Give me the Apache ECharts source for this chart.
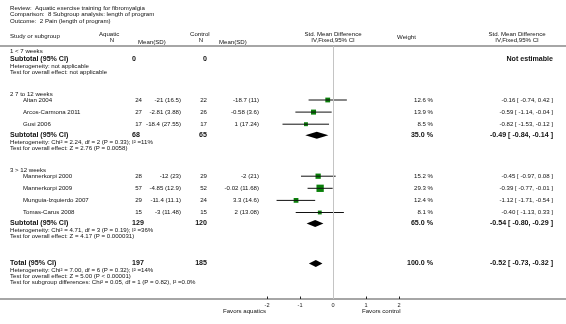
<!DOCTYPE html>
<html>
<head>
<meta charset="utf-8">
<script src="https://cdn.jsdelivr.net/npm/echarts@6/dist/echarts.min.js"></script>
<style>
html, body { margin: 0; padding: 0; background: #fff; }
#chart { width: 566px; height: 324px; }
</style>
</head>
<body>
<div id="chart"></div>
<script>
// ---- data ----
const titleLines = [
  'Review:  Aquatic exercise training for fibromyalgia',
  'Comparison:  8 Subgroup analysis: length of program',
  'Outcome:  2 Pain (length of program)'
]
const groupNames = ['1 < 7 weeks', '2 7 to 12 weeks', '3 > 12 weeks']
const studyGroup = [1, 1, 1, 2, 2, 2, 2]
const studyNames = ['Altan 2004', 'Arcos-Carmona 2011', 'Gusi 2006', 'Mannerkorpi 2000', 'Mannerkorpi 2009', 'Munguia-Izquierdo 2007', 'Tomas-Carus 2008']
const aquaticN = [24, 27, 17, 28, 57, 29, 15]
const aquaticMeanSD = ['-21 (16.5)', '-2.81 (3.88)', '-18.4 (27.55)', '-12 (23)', '-4.85 (12.9)', '-11.4 (11.1)', '-3 (11.48)']
const controlN = [22, 26, 17, 29, 52, 24, 15]
const controlMeanSD = ['-18.7 (11)', '-0.58 (3.6)', '1 (17.24)', '-2 (21)', '-0.02 (11.68)', '3.3 (14.6)', '2 (13.08)']
const weights = [12.6, 13.9, 8.5, 15.2, 29.3, 12.4, 8.1]
const smd = [-0.16, -0.59, -0.82, -0.45, -0.39, -1.12, -0.40]
const ciLow = [-0.74, -1.14, -1.53, -0.97, -0.77, -1.71, -1.13]
const ciHigh = [0.42, -0.04, -0.12, 0.08, -0.01, -0.54, 0.33]

const subAquaticN = [0, 68, 129]
const subControlN = [0, 65, 120]
const subWeight = [null, 35.0, 65.0]
const subSmd = [null, -0.49, -0.54]
const subLow = [null, -0.84, -0.80]
const subHigh = [null, -0.14, -0.29]
const subHetero = [
  'Heterogeneity: not applicable',
  'Heterogeneity: Chi² = 2.24, df = 2 (P = 0.33); I² =11%',
  'Heterogeneity: Chi² = 4.71, df = 3 (P = 0.19); I² =36%'
]
const subTest = [
  'Test for overall effect: not applicable',
  'Test for overall effect: Z = 2.76 (P = 0.0058)',
  'Test for overall effect: Z = 4.17 (P = 0.000031)'
]
const total = { aquaticN: 197, controlN: 185, weight: 100.0, smd: -0.52, low: -0.73, high: -0.32 }
const totalNotes = [
  'Heterogeneity: Chi² = 7.00, df = 6 (P = 0.32); I² =14%',
  'Test for overall effect: Z = 5.00 (P < 0.00001)',
  'Test for subgroup differences: Chi² = 0.05, df = 1 (P = 0.82), I² =0.0%'
]
const axisTicks = [-2, -1, 0, 1, 2]
const favorsLeft = 'Favors aquatics'
const favorsRight = 'Favors control'

// ---- layout ----
const FONT = '"Liberation Sans", Arial, Helvetica, sans-serif'
const fNormal = '6.1px ' + FONT
const fBold = 'bold 7.1px ' + FONT
const col = { name: 10, study: 23, aqN: 142, aqNBold: 132, aqMean: 181, ctN: 207, ctMean: 259, weight: 433, ci: 553 }
const topLine = 46, bottomLine = 299

const fmt2 = v => v.toFixed(2)
const ciText = (e, l, h) => fmt2(e) + ' [ ' + fmt2(l) + ', ' + fmt2(h) + ' ]'

let texts = []
function txt(str, x, y, font, align) {
  texts.push({
    type: 'text', x: x, y: y, silent: true,
    style: { text: str, font: font, fill: '#111', align: align || 'left', verticalAlign: 'middle',
             textAlign: align || 'left', textVerticalAlign: 'middle' }
  })
}

titleLines.forEach((t, i) => txt(t, 10, 8 + i * 6.5, fNormal))
txt('Study or subgroup', 10, 36, fNormal)
txt('Aquatic', 99, 34, fNormal)
txt('N', 112, 40, fNormal, 'center')
txt('Mean(SD)', 138, 42, fNormal)
txt('Control', 190, 34, fNormal)
txt('N', 201, 40, fNormal, 'center')
txt('Mean(SD)', 219, 42, fNormal)
txt('Std. Mean Difference', 333, 34, fNormal, 'center')
txt('IV,Fixed,95% CI', 333, 40, fNormal, 'center')
txt('Weight', 397, 37, fNormal)
txt('Std. Mean Difference', 517, 34, fNormal, 'center')
txt('IV,Fixed,95% CI', 517, 40, fNormal, 'center')

const studyPts = []
const diamondPts = []
let y = 51
groupNames.forEach((g, gi) => {
  txt(g, col.name, y, fNormal)
  const idx = studyGroup.map((s, i) => s === gi ? i : -1).filter(i => i >= 0)
  if (idx.length) {
    y += 6
    idx.forEach((i, k) => {
      txt(studyNames[i], col.study, y, fNormal)
      txt(String(aquaticN[i]), col.aqN, y, fNormal, 'right')
      txt(aquaticMeanSD[i], col.aqMean, y, fNormal, 'right')
      txt(String(controlN[i]), col.ctN, y, fNormal, 'right')
      txt(controlMeanSD[i], col.ctMean, y, fNormal, 'right')
      txt(weights[i].toFixed(1) + ' %', col.weight, y, fNormal, 'right')
      txt(ciText(smd[i], ciLow[i], ciHigh[i]), col.ci, y, fNormal, 'right')
      studyPts.push([smd[i], ciLow[i], ciHigh[i], y, weights[i]])
      if (k < idx.length - 1) y += 12.1
    })
    y += 11
  } else {
    y += 8
  }
  txt('Subtotal (95% CI)', col.name, y, fBold)
  txt(String(subAquaticN[gi]), col.aqNBold, y, fBold)
  txt(String(subControlN[gi]), col.ctN, y, fBold, 'right')
  if (subSmd[gi] === null) {
    txt('Not estimable', col.ci, y, fBold, 'right')
  } else {
    txt(subWeight[gi].toFixed(1) + ' %', col.weight, y, fBold, 'right')
    txt(ciText(subSmd[gi], subLow[gi], subHigh[gi]), col.ci, y, fBold, 'right')
    diamondPts.push([subSmd[gi], subLow[gi], subHigh[gi], y])
  }
  y += 7
  txt(subHetero[gi], col.name, y, fNormal)
  y += 6
  txt(subTest[gi], col.name, y, fNormal)
  y += 22
})
y += 5
txt('Total (95% CI)', col.name, y, fBold)
txt(String(total.aquaticN), col.aqNBold, y, fBold)
txt(String(total.controlN), col.ctN, y, fBold, 'right')
txt(total.weight.toFixed(1) + ' %', col.weight, y, fBold, 'right')
txt(ciText(total.smd, total.low, total.high), col.ci, y, fBold, 'right')
diamondPts.push([total.smd, total.low, total.high, y])
y += 7
totalNotes.forEach(n => { txt(n, col.name, y, fNormal); y += 6 })

txt(favorsLeft, 266, 311.5, fNormal, 'right')
txt(favorsRight, 362, 311.5, fNormal)

const rules = [topLine, bottomLine].map(ly => ({
  type: 'line', silent: true, z: -1,
  shape: { x1: 0, y1: ly, x2: 566, y2: ly },
  style: { stroke: '#a6a6a6', lineWidth: 2 }
}))

const chart = echarts.init(document.getElementById('chart'), null, { renderer: 'canvas' })
chart.setOption({
  animation: false,
  grid: { left: 267, right: 167, top: topLine, bottom: 324 - bottomLine },
  xAxis: {
    type: 'value', min: -2, max: 2, interval: 1,
    axisLine: { show: false },
    axisTick: { show: true, inside: true, length: 2.5, lineStyle: { color: '#222', width: 1 } },
    axisLabel: { fontSize: 5.6, fontFamily: FONT, color: '#222', margin: 3,
                 formatter: v => axisTicks.indexOf(v) >= 0 ? String(v) : '' },
    splitLine: { show: false }
  },
  yAxis: { type: 'value', min: topLine, max: bottomLine, inverse: true, show: false },
  graphic: { elements: rules.concat(texts) },
  series: [
    {
      type: 'custom',
      data: studyPts,
      encode: { x: [0, 1, 2], y: 3 },
      z: 3,
      renderItem: (params, api) => {
        const c = api.coord([api.value(0), api.value(3)])
        const l = api.coord([api.value(1), api.value(3)])
        const h = api.coord([api.value(2), api.value(3)])
        const s = 1.35 * Math.sqrt(api.value(4))
        return {
          type: 'group',
          children: [
            { type: 'rect', shape: { x: c[0] - s / 2, y: c[1] - s / 2, width: s, height: s }, style: { fill: '#0a800a' } },
            { type: 'line', shape: { x1: l[0], y1: l[1], x2: h[0], y2: h[1] }, style: { stroke: '#111', lineWidth: 1 } }
          ]
        }
      },
      markLine: {
        silent: true, symbol: 'none', label: { show: false },
        lineStyle: { color: '#c4c4c4', width: 1, type: 'solid' },
        data: [{ xAxis: 0 }]
      }
    },
    {
      type: 'custom',
      data: diamondPts,
      encode: { x: [0, 1, 2], y: 3 },
      z: 3,
      renderItem: (params, api) => {
        const c = api.coord([api.value(0), api.value(3)])
        const l = api.coord([api.value(1), api.value(3)])
        const h = api.coord([api.value(2), api.value(3)])
        const hh = 3.5
        return {
          type: 'polygon',
          shape: { points: [[l[0], c[1]], [c[0], c[1] - hh], [h[0], c[1]], [c[0], c[1] + hh]] },
          style: { fill: '#000' }
        }
      }
    }
  ]
})
</script>
</body>
</html>
